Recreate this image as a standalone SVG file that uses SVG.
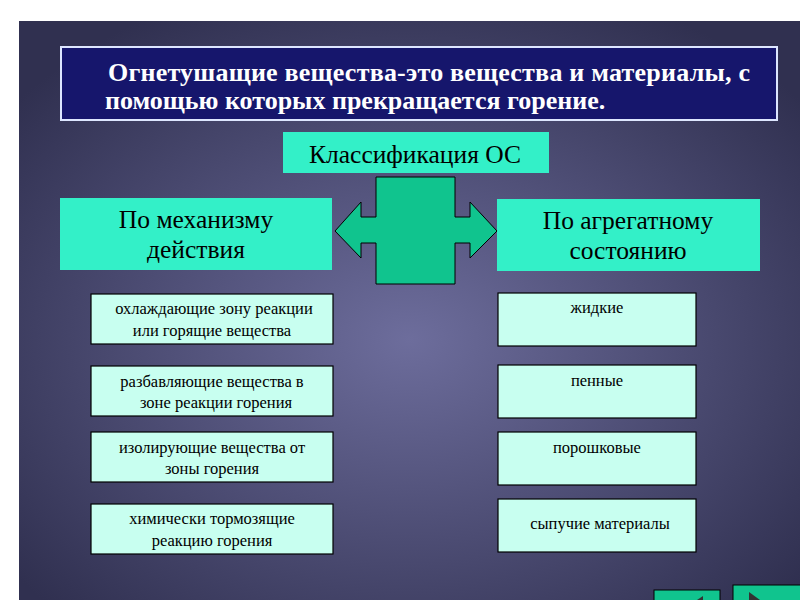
<svg xmlns="http://www.w3.org/2000/svg" width="800" height="600" viewBox="0 0 800 600">
<defs>
<radialGradient id="bg" cx="0.5" cy="0.55" r="0.65">
<stop offset="0" stop-color="#6d6d9c"/>
<stop offset="1" stop-color="#303050"/>
</radialGradient>
</defs>
<style>
.t{font-family:"Liberation Serif",serif;fill:#000}
.big{fill:#33f0c8}
.small{fill:#c8fff0;stroke:#000;stroke-width:1.2}
.s{font-size:16.5px}
.b{font-size:25.5px}
</style>
<rect width="800" height="600" fill="#fff"/>
<rect x="19" y="21" width="781" height="579" fill="url(#bg)"/>
<g id="title">
<rect x="61" y="47" width="716" height="73" fill="#16166c" stroke="#dde6ff" stroke-width="2"/>
<text class="t" x="108" y="81" font-size="26" font-weight="bold" style="fill:#fff" textLength="642">Огнетушащие вещества-это вещества и материалы, с</text>
<text class="t" x="105" y="109" font-size="26" font-weight="bold" style="fill:#fff">помощью которых прекращается горение.</text>
</g>
<g id="class">
<rect x="283" y="132" width="266" height="41" class="big"/>
<text class="t b" x="415" y="163" text-anchor="middle">Классификация ОС</text>
</g>
<g id="left">
<rect x="60" y="198" width="272" height="72" class="big"/>
<text class="t b" x="196" y="228" text-anchor="middle">По механизму</text>
<text class="t b" x="196" y="258" text-anchor="middle">действия</text>
</g>
<g id="right">
<rect x="497" y="199" width="263" height="72" class="big"/>
<text class="t b" x="628" y="229" text-anchor="middle">По агрегатному</text>
<text class="t b" x="628" y="259" text-anchor="middle">состоянию</text>
</g>
<g id="connectors">
<polygon points="376,177 455,177 455,217 470,217 470,202 497,231 470,258 470,243 455,243 455,284 376,284 376,243 361,243 361,258 335,231 361,202 361,217 376,217" fill="#10c48e" stroke="#000" stroke-width="1"/>
</g>
<g id="l1"><rect x="91" y="294" width="242" height="50" class="small"/>
<text class="t s" x="214" y="314" text-anchor="middle">охлаждающие зону реакции</text>
<text class="t s" x="212" y="336" text-anchor="middle">или горящие вещества</text></g>
<g id="l2"><rect x="91" y="366" width="242" height="50" class="small"/>
<text class="t s" x="212" y="387" text-anchor="middle">разбавляющие вещества в</text>
<text class="t s" x="216" y="408" text-anchor="middle">зоне реакции горения</text></g>
<g id="l3"><rect x="91" y="432" width="242" height="50" class="small"/>
<text class="t s" x="212" y="453" text-anchor="middle">изолирующие вещества от</text>
<text class="t s" x="212" y="474" text-anchor="middle">зоны горения</text></g>
<g id="l4"><rect x="91" y="504" width="242" height="50" class="small"/>
<text class="t s" x="212" y="524" text-anchor="middle">химически тормозящие</text>
<text class="t s" x="212" y="546" text-anchor="middle">реакцию горения</text></g>
<g id="r1"><rect x="498" y="293" width="198" height="53" class="small"/>
<text class="t s" x="597" y="313" text-anchor="middle">жидкие</text></g>
<g id="r2"><rect x="498" y="365" width="198" height="53" class="small"/>
<text class="t s" x="597" y="386" text-anchor="middle">пенные</text></g>
<g id="r3"><rect x="498" y="432" width="198" height="53" class="small"/>
<text class="t s" x="597" y="453" text-anchor="middle">порошковые</text></g>
<g id="r4"><rect x="498" y="499" width="198" height="53" class="small"/>
<text class="t s" x="600" y="529" text-anchor="middle">сыпучие материалы</text></g>
<g id="nav">
<rect x="654" y="590" width="66" height="14" fill="#10c48e" stroke="#000"/>
<polygon points="703,596 697,600 703,600" fill="#333"/>
<rect x="733" y="585" width="70" height="20" fill="#10c48e" stroke="#000"/>
<polygon points="749,592 760,600 749,600" fill="#333"/>
</g>
</svg>
